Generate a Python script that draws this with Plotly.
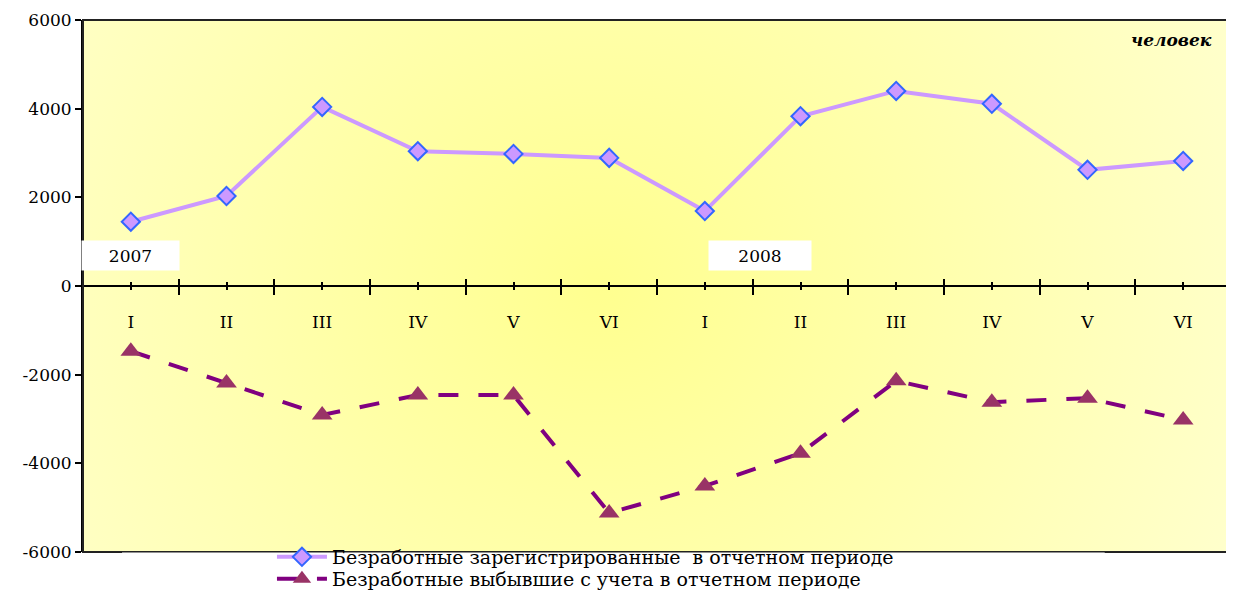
import plotly.graph_objects as go
import base64

# ---- data ----
months = ["I", "II", "III", "IV", "V", "VI", "I", "II", "III", "IV", "V", "VI"]
registered = [1450, 2030, 4040, 3040, 2980, 2890, 1690, 3830, 4400, 4110, 2620, 2820]
dropped = [-1470, -2190, -2910, -2460, -2460, -5120, -4510, -3770, -2140, -2620, -2530, -3020]
y_ticks = [-6000, -4000, -2000, 0, 2000, 4000, 6000]
y_tick_labels = ["-6000", "-4000", "-2000", "0", "2000", "4000", "6000"]
years = ["2007", "2008"]
name_reg = "Безработные зарегистрированные  в отчетном периоде"
name_drop = "Безработные выбывшие с учета в отчетном периоде"
unit = "человек"

x_idx = list(range(len(months)))
bounds = [i + 0.5 for i in range(len(months) - 1)]

SERIF = "DejaVu Serif"
W, H = 1226, 582  # page body has an 8px margin

fig = go.Figure()
fig.add_trace(go.Scatter(
    x=x_idx, y=registered, name=name_reg, mode="lines+markers",
    line=dict(color="#CC99FF", width=4),
    marker=dict(symbol="diamond", size=14, color="#CC99FF",
                line=dict(color="#3366FF", width=2)),
    legend="legend",
))
fig.add_trace(go.Scatter(
    x=x_idx, y=dropped, name=name_drop, mode="lines+markers",
    line=dict(color="#800080", width=4, dash="longdash"),
    marker=dict(symbol="triangle-up", size=18, color="#993366",
                line=dict(width=0)),
    legend="legend2",
))

svg = ('<svg xmlns="http://www.w3.org/2000/svg" width="1148" height="532" '
       'viewBox="0 0 1148 532" preserveAspectRatio="none">'
       '<defs><radialGradient id="g" cx="0.45" cy="0.5" r="0.6" '
       'gradientTransform="translate(0.45 0.5) scale(1 2.1) translate(-0.45 -0.5)">'
       '<stop offset="0" stop-color="#FFFF8F"/>'
       '<stop offset="1" stop-color="#FFFFCC"/></radialGradient></defs>'
       '<rect width="1148" height="532" fill="url(#g)"/></svg>')
src = "data:image/svg+xml;base64," + base64.b64encode(svg.encode()).decode()

leg_common = dict(x=0.1646, xanchor="left", yref="container", yanchor="middle",
                  bgcolor="rgba(0,0,0,0)", borderwidth=0,
                  font=dict(family=SERIF, size=19, color="black"),
                  itemwidth=50)

fig.update_layout(
    width=W, height=H,
    margin=dict(l=75, r=3, t=12, b=38, autoexpand=False),
    paper_bgcolor="white",
    plot_bgcolor="#FFFFCC",
    font=dict(family=SERIF, color="black", size=15),
    showlegend=True,
    legend=dict(y=(H - (557 - 8)) / H, **leg_common),
    legend2=dict(y=(H - (579 - 8)) / H, **leg_common),
    images=[dict(source=src, xref="paper", yref="paper", x=0, y=1,
                 sizex=1, sizey=1, sizing="stretch", layer="below")],
    xaxis=dict(
        range=[-0.5, 11.5], anchor="free", position=0.5, automargin=False,
        showline=True, linecolor="black", linewidth=2,
        showgrid=False, zeroline=False,
        tickmode="array", tickvals=x_idx, ticktext=months,
        ticks="outside", ticklen=3, tickwidth=2, tickcolor="black",
        ticklabelstandoff=18,
        tickfont=dict(family=SERIF, size=17),
        minor=dict(tickvals=bounds, ticks="outside", ticklen=8,
                   tickwidth=2, tickcolor="black", showgrid=False),
    ),
    xaxis2=dict(
        range=[-0.5, 11.5], overlaying="x", anchor="free", position=0.5,
        automargin=False,
        showline=False, showgrid=False, zeroline=False,
        tickmode="array", tickvals=x_idx, ticktext=["" for _ in months],
        ticks="inside", ticklen=4, tickwidth=2, tickcolor="black",
        showticklabels=False, side="bottom",
        minor=dict(tickvals=bounds, ticks="inside", ticklen=7,
                   tickwidth=2, tickcolor="black", showgrid=False),
    ),
    yaxis=dict(
        range=[-6000, 6000], tickmode="array", tickvals=y_ticks,
        ticktext=y_tick_labels, showgrid=False, zeroline=False,
        automargin=False,
        showline=True, linecolor="black", linewidth=2,
        ticks="outside", ticklen=6, tickwidth=2, tickcolor="black",
        tickfont=dict(family=SERIF, size=17),
    ),
    shapes=[
        dict(type="rect", xref="paper", yref="paper", x0=0, x1=1, y0=0, y1=1,
             line=dict(color="#222222", width=2), fillcolor="rgba(0,0,0,0)",
             layer="above"),
        dict(type="rect", xref="paper", yref="paper", x0=0.034, x1=0.89,
             y0=-0.08, y1=-0.001, line=dict(width=0), fillcolor="white",
             layer="above"),
    ],
    annotations=[
        dict(text=years[0], xref="x", x=0, yref="paper", y=0.557,
             showarrow=False, bgcolor="white", width=95, height=27,
             font=dict(family=SERIF, size=17)),
        dict(text=years[1], xref="x", x=6.58, yref="paper", y=0.557,
             showarrow=False, bgcolor="white", width=100, height=27,
             font=dict(family=SERIF, size=17)),
        dict(text="<b><i>" + unit + "</i></b>", xref="paper", x=0.985,
             xanchor="right", yref="paper", y=0.985, showarrow=False,
             font=dict(family=SERIF, size=17)),
    ],
)
# dummy trace on xaxis2 so the overlay axis is drawn
fig.add_trace(go.Scatter(x=[None], y=[None], xaxis="x2", showlegend=False,
                         hoverinfo="skip"))

fig.write_html("out.html")
